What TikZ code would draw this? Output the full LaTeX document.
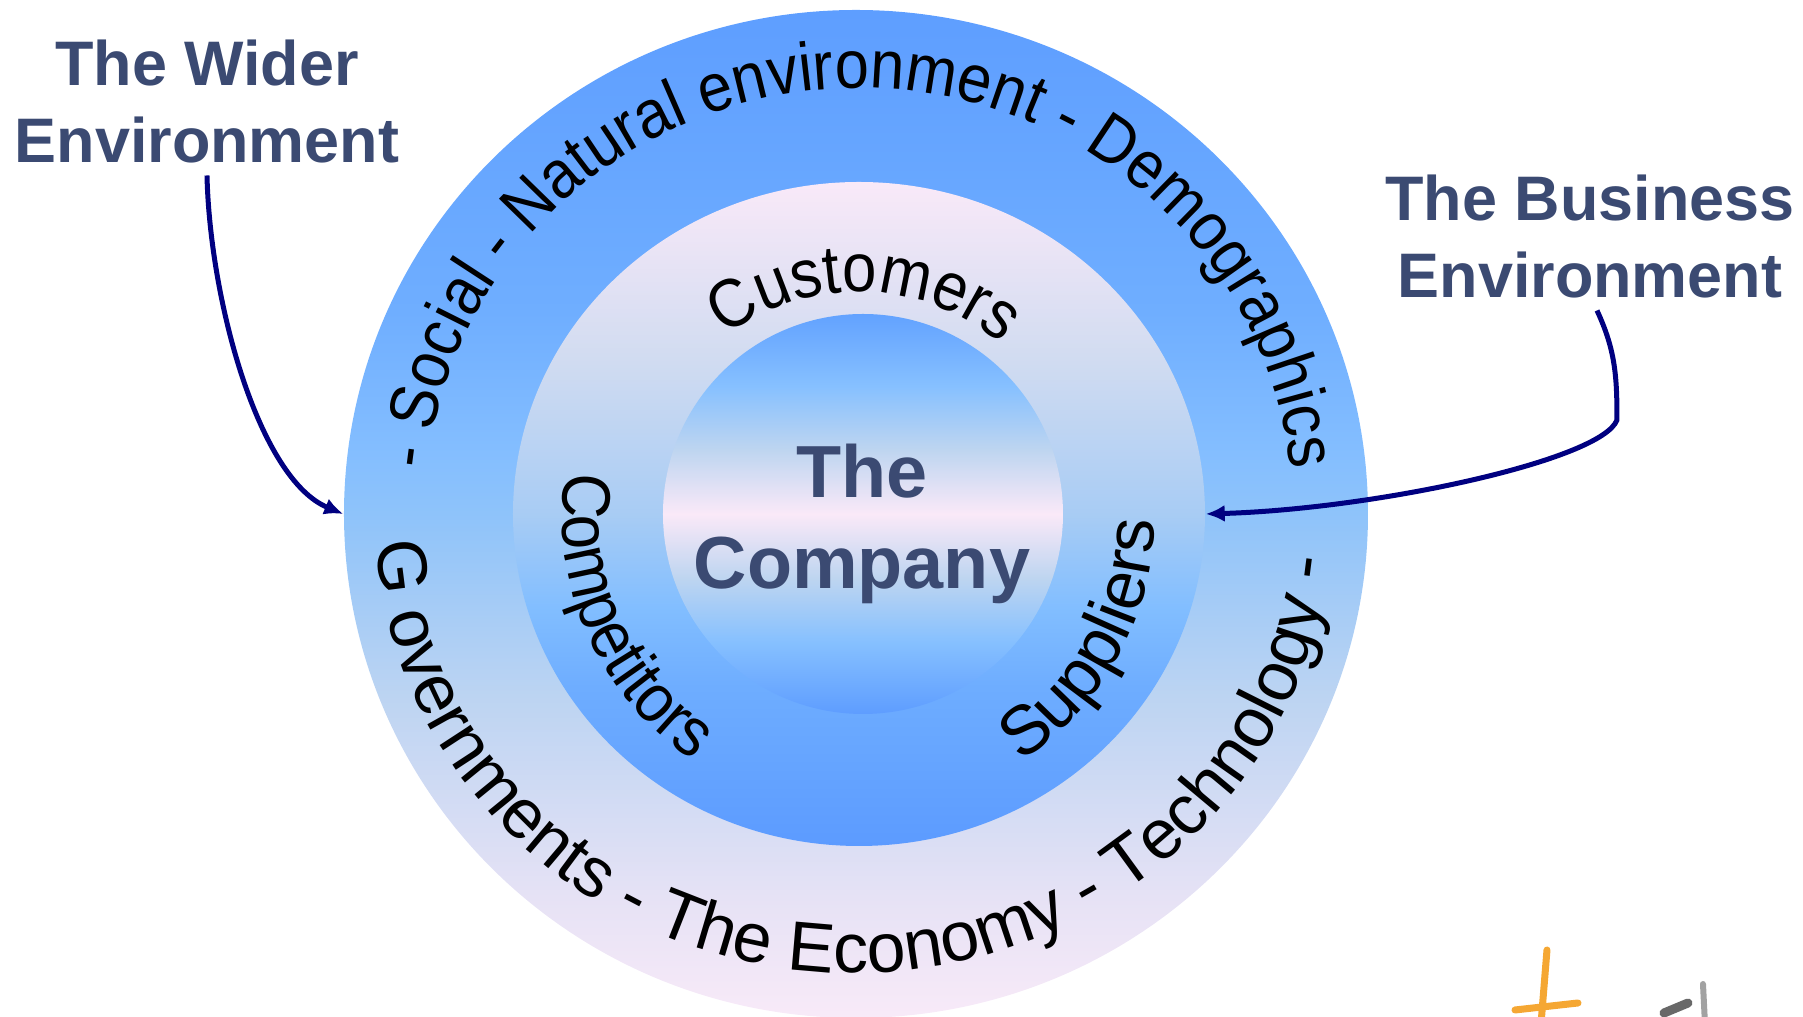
\documentclass[tikz,border=0pt]{standalone}
\usepackage{fontspec}
\setmainfont{Liberation Sans}
\newfontfamily\arcfont[FakeStretch=0.9]{Liberation Sans}
\usepackage{tikz}
\usetikzlibrary{shapes.geometric,decorations.text,arrows.meta}

\definecolor{labelblue}{HTML}{3B4A72}
\definecolor{arrowblue}{HTML}{000080}
\definecolor{logoorange}{HTML}{F5A733}
\definecolor{logogrey}{HTML}{7A7A7A}

\definecolor{oa}{HTML}{F8EAF8}
\definecolor{ob}{HTML}{E6E2F5}
\definecolor{oc}{HTML}{BCD4F2}
\definecolor{od}{HTML}{8EC3FA}
\definecolor{oe}{HTML}{84BEFF}
\definecolor{of}{HTML}{6FAEFF}
\definecolor{og}{HTML}{5E9EFF}

\definecolor{ma}{HTML}{5C9BFF}
\definecolor{mb}{HTML}{6EADFF}
\definecolor{mc}{HTML}{82BEFF}
\definecolor{md}{HTML}{A8CCF4}
\definecolor{me}{HTML}{D2DCF1}
\definecolor{mf}{HTML}{F9E9F8}

\definecolor{ca}{HTML}{5E9DFF}
\definecolor{cb}{HTML}{86C0FF}
\definecolor{cc}{HTML}{BED5F0}
\definecolor{cd}{HTML}{FAE9F8}
\definecolor{ce}{HTML}{62A2FF}

\pgfdeclareverticalshading{outershade}{100bp}{color(0bp)=(oa); color(25bp)=(oa); color(31bp)=(ob); color(41bp)=(oc); color(50bp)=(od); color(53bp)=(oe); color(60bp)=(of); color(75bp)=(og); color(100bp)=(og)}
\pgfdeclareverticalshading{middleshade}{100bp}{color(0bp)=(ma); color(25bp)=(ma); color(37bp)=(mb); color(43bp)=(mc); color(50bp)=(md); color(62bp)=(me); color(75bp)=(mf); color(100bp)=(mf)}
\pgfdeclareverticalshading{coreshade}{100bp}{color(0bp)=(ca); color(25bp)=(ca); color(34bp)=(cb); color(42bp)=(cc); color(50bp)=(cd); color(58bp)=(cc); color(66bp)=(cb); color(75bp)=(ce); color(100bp)=(ce)}

\newcommand\topring{\arcfont\fontsize{19.4pt}{23pt}\selectfont}
\newcommand\lowring{\fontsize{19.9pt}{24pt}\selectfont}
\newcommand\midring{\arcfont\fontsize{19.5pt}{23pt}\selectfont}
\newcommand\sidering{\fontsize{19.6pt}{23pt}\selectfont}

\begin{document}
\begin{tikzpicture}[
ring/.style={
  ellipse,
  draw=none,
  shade,
  inner sep=0pt
  },
caption/.style={
  align=center,
  text=labelblue,
  font=\bfseries\fontsize{17.9}{21.9}\selectfont
  },
title/.style={
  align=center,
  text=labelblue,
  inner sep=0pt,
  font=\bfseries\fontsize{21}{25.9}\selectfont
  },
link/.style={
  draw=arrowblue,
  line width=0.05cm
  },
logo/.style={
  line width=0.07cm,
  line cap=round
  },
>={Latex[length=0.19cm,width=0.17cm]}
]

\useasboundingbox (-8.59,-5.03) rectangle (9.44,5.14);

\node[ring, shading=outershade, minimum width=10.24cm, minimum height=10.08cm] (outer) at (-0.03,0) {};
\node[ring, shading=middleshade, minimum width=6.92cm, minimum height=6.64cm] (middle) at (0,0) {};
\node[ring, shading=coreshade, minimum width=4cm, minimum height=4cm] (core) at (0.04,0) {};

\path[decorate, decoration={text along path, text align=center,
  text={|\topring|- Social - Natural environment - Demographics}}]
  (178:4.34cm and 4.26cm) arc[start angle=178, end angle=2, x radius=4.34cm, y radius=4.26cm];
\path[decorate, decoration={text along path, text align=center,
  text={|\lowring|G overnments - The Economy - Technology -}}]
  ([xshift=-0.06cm]176:4.78cm and 4.59cm) arc[start angle=176, end angle=362, x radius=4.78cm, y radius=4.59cm];

\path[decorate, decoration={text along path, text align=center,
  text={|\midring|Customers}}]
  (150:2.22cm) arc[start angle=150, end angle=27, radius=2.22cm];
\path[decorate, decoration={text along path, text align=center,
  text={|\midring|Competitors}}]
  (148:2.97cm) arc[start angle=148, end angle=260, radius=2.97cm];
\path[decorate, decoration={text along path, text align=center,
  text={|\sidering|Suppliers}}]
  (-79:2.96cm) arc[start angle=-79, end angle=21, radius=2.96cm];

\node[title] (company) at (0.03,-0.095) {The\\Company};

\node[caption] (wider) at (-6.52,4.125) {The Wider\\Environment};
\node[caption] (business) at (7.31,2.775) {The Business\\Environment};

\coordinate (kink) at (7.58,0.94);

\draw[link,->] (wider.south) .. controls +(0.03,-1.27) and +(-0.84,0.35) .. (outer.west);
\draw[link,->] ([xshift=0.07cm]business.south) to[out=-65,in=90] (kink)
  .. controls +(-0.15,-0.4) and +(1.71,0.05) .. (middle.east);

\draw[logo, draw=logoorange] (6.88,-4.36) -- (6.82,-5.1);
\draw[logo, draw=logoorange] (6.56,-4.96) -- (7.19,-4.89);
\draw[logo, draw=logogrey!85!black, line width=0.09cm] (8.05,-4.99) -- (8.29,-4.89);
\draw[logo, draw=logogrey!70, line width=0.06cm] (8.44,-4.7) -- (8.46,-5.1);
\end{tikzpicture}
\end{document}
